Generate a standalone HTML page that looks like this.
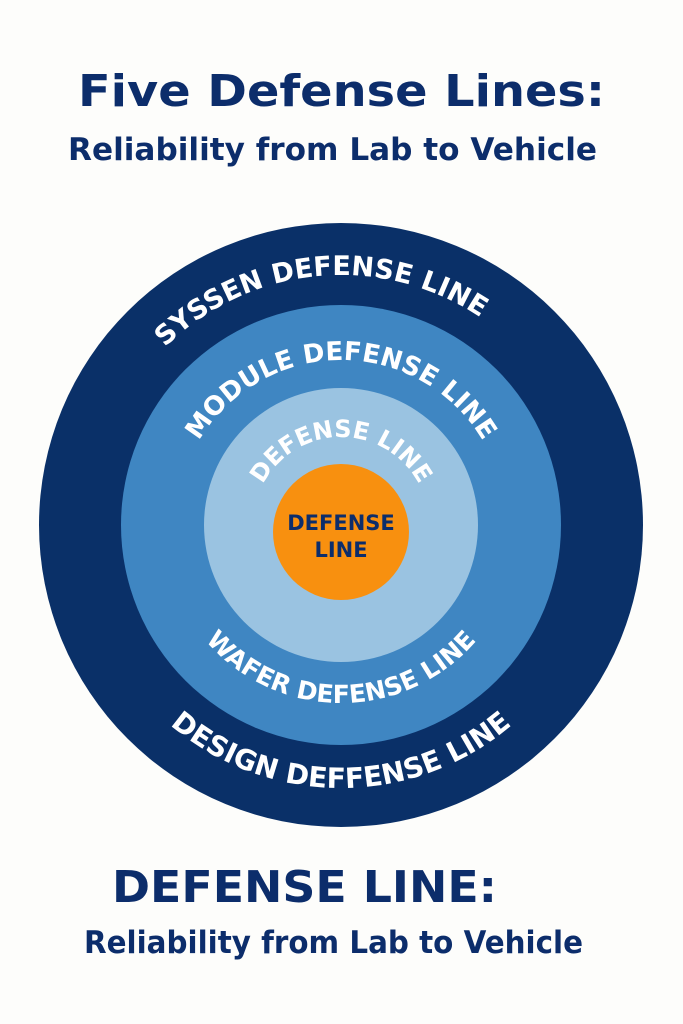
<!DOCTYPE html>
<html><head><meta charset="utf-8"><style>
html,body{margin:0;padding:0;background:#fdfdfb;}
svg{display:block}
text{font-family:"DejaVu Sans","Liberation Sans",sans-serif;font-weight:bold;}
</style></head><body>
<svg width="683" height="1024" viewBox="0 0 683 1024">
<defs>
<path id="t1" d="M91,525 A250,250 0 0 1 591,525"/>
<path id="t2" d="M176,525 A165,165 0 0 1 506,525"/>
<path id="t3" d="M253,525 A88,88 0 0 1 429,525"/>
<path id="b2" d="M163,525 A178,178 0 0 0 519,525"/>
<path id="b1" d="M78,525 A263,263 0 0 0 604,525"/>
</defs>
<text x="78" y="106" font-size="44" fill="#0c2d6b" textLength="527" lengthAdjust="spacingAndGlyphs">Five Defense Lines:</text>
<text x="68" y="160" font-size="31" fill="#0c2d6b" textLength="529" lengthAdjust="spacingAndGlyphs" style="font-weight:600">Reliability from Lab to Vehicle</text>
<circle cx="341" cy="525" r="302" fill="#0a3068"/>
<circle cx="341" cy="525" r="220" fill="#3f86c2"/>
<circle cx="341" cy="525" r="137" fill="#9ac3e1"/>
<circle cx="341" cy="532" r="68" fill="#f8900f"/>
<text font-size="27" fill="#fff"><textPath href="#t1" startOffset="47%" text-anchor="middle">SYSSEN DEFENSE LINE</textPath></text>
<text font-size="26" fill="#fff"><textPath href="#t2" startOffset="50%" text-anchor="middle">MODULE DEFENSE LINE</textPath></text>
<text font-size="24" fill="#fff"><textPath href="#t3" startOffset="50%" text-anchor="middle">DEFENSE LINE</textPath></text>
<text font-size="25" fill="#fff"><textPath href="#b2" startOffset="50%" text-anchor="middle">WAFER DEFENSE LINE</textPath></text>
<text font-size="28" fill="#fff"><textPath href="#b1" startOffset="50%" text-anchor="middle">DESIGN DEFFENSE LINE</textPath></text>
<text x="341" y="530" text-anchor="middle" font-size="21" fill="#0c2d6b">DEFENSE</text>
<text x="341" y="557" text-anchor="middle" font-size="21" fill="#0c2d6b">LINE</text>
<text x="112" y="902" font-size="44" fill="#0c2d6b" textLength="385" lengthAdjust="spacingAndGlyphs">DEFENSE LINE:</text>
<text x="84" y="953" font-size="31" fill="#0c2d6b" textLength="499" lengthAdjust="spacingAndGlyphs" style="font-weight:600">Reliability from Lab to Vehicle</text>
</svg>
</body></html>
